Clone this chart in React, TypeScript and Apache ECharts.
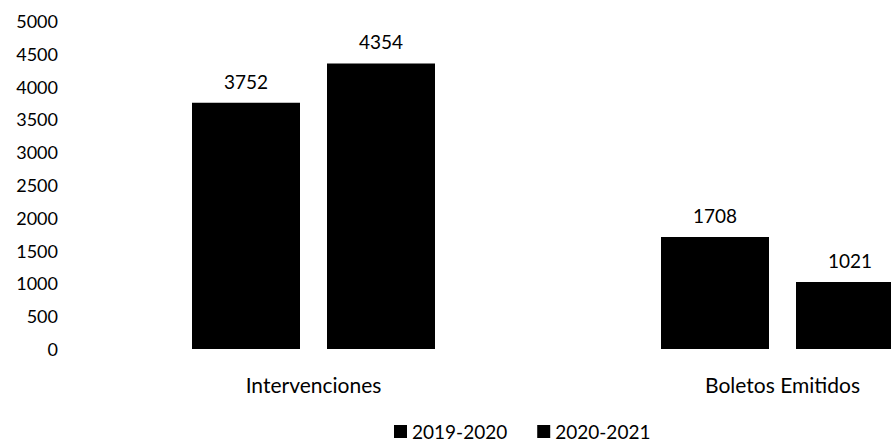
import React, { useEffect, useRef } from "react";
import * as echarts from "echarts";

const categories = ["Intervenciones", "Boletos Emitidos"];
const series2019 = [3752, 1708];
const series2020 = [4354, 1021];
const seriesNames = ["2019-2020", "2020-2021"];
const yMax = 5000;
const yStep = 500;

const FONT = "Lato";

export default function App() {
  const ref = useRef<HTMLDivElement>(null);
  useEffect(() => {
    if (!ref.current) return;
    const chart = echarts.init(ref.current, null, { renderer: "svg" });
    chart.setOption({
      animation: false,
      grid: { left: 79, right: 13, top: 21, bottom: 93, containLabel: false },
      legend: {
        top: 422,
        left: 394,
        itemWidth: 13,
        itemHeight: 13,
        itemGap: 30,
        padding: 0,
        icon: "rect",
        textStyle: { fontFamily: FONT, fontSize: 19, color: "#000" },
        data: seriesNames,
      },
      xAxis: {
        type: "category",
        data: categories,
        axisLine: { show: false },
        axisTick: { show: false },
        axisLabel: { fontFamily: FONT, fontSize: 21, color: "#000", margin: 25 },
      },
      yAxis: {
        type: "value",
        min: 0,
        max: yMax,
        interval: yStep,
        splitLine: { show: false },
        axisLine: { show: false },
        axisTick: { show: false },
        axisLabel: { fontFamily: FONT, fontSize: 18, color: "#000", margin: 21, formatter: (v: number) => String(v) },
      },
      series: [
        {
          name: seriesNames[0],
          type: "bar",
          data: series2019,
          barWidth: 108,
          barGap: "25%",
          itemStyle: { color: "#000" },
          label: { show: true, position: "top", distance: 12, fontFamily: FONT, fontSize: 19, color: "#000" },
        },
        {
          name: seriesNames[1],
          type: "bar",
          data: series2020,
          barWidth: 108,
          itemStyle: { color: "#000" },
          label: { show: true, position: "top", distance: 12, fontFamily: FONT, fontSize: 19, color: "#000" },
        },
      ],
    });
    return () => chart.dispose();
  }, []);
  return (
    <div style={{ position: "absolute", left: 0, top: 0, width: 891, height: 442, overflow: "hidden" }}>
      <div ref={ref} style={{ width: 1030, height: 442 }} />
    </div>
  );
}
